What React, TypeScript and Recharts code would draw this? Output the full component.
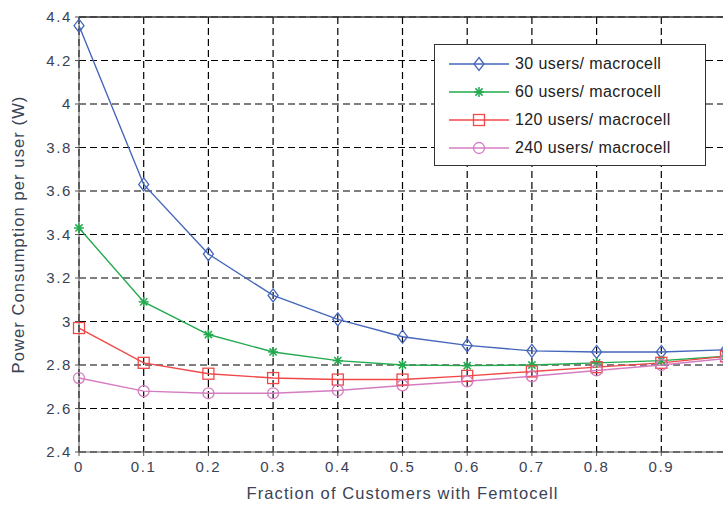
import React from 'react'
import {
  LineChart,
  Line,
  XAxis,
  YAxis,
  CartesianGrid,
  ReferenceLine,
} from 'recharts'

const fractions = [0, 0.1, 0.2, 0.3, 0.4, 0.5, 0.6, 0.7, 0.8, 0.9, 1]
const users30 = [4.36, 3.63, 3.31, 3.12, 3.01, 2.93, 2.89, 2.865, 2.86, 2.86, 2.87]
const users60 = [3.43, 3.09, 2.94, 2.86, 2.82, 2.8, 2.797, 2.8, 2.81, 2.82, 2.84]
const users120 = [2.97, 2.81, 2.76, 2.74, 2.733, 2.733, 2.75, 2.77, 2.79, 2.81, 2.84]
const users240 = [2.74, 2.68, 2.67, 2.67, 2.683, 2.706, 2.725, 2.748, 2.775, 2.8, 2.83]

const yTicks = [2.4, 2.6, 2.8, 3, 3.2, 3.4, 3.6, 3.8, 4, 4.2, 4.4]
const xTicks = [0, 0.1, 0.2, 0.3, 0.4, 0.5, 0.6, 0.7, 0.8, 0.9]

const seriesInfo = [
  { key: 'u30', name: '30 users/ macrocell', color: '#4466bb', marker: 'diamond' },
  { key: 'u60', name: '60 users/ macrocell', color: '#22aa4e', marker: 'star' },
  { key: 'u120', name: '120 users/ macrocell', color: '#f04848', marker: 'square' },
  { key: 'u240', name: '240 users/ macrocell', color: '#d47cc0', marker: 'circle' },
]

const data = fractions.map((f, i) => ({
  f,
  u30: users30[i],
  u60: users60[i],
  u120: users120[i],
  u240: users240[i],
}))

const Marker = ({ cx, cy, kind, color }: any) => {
  if (cx == null || cy == null) return null
  if (kind === 'diamond') {
    return (
      <polygon
        points={`${cx},${cy - 6.5} ${cx + 5},${cy} ${cx},${cy + 6.5} ${cx - 5},${cy}`}
        fill="none"
        stroke={color}
        strokeWidth={1.3}
      />
    )
  }
  if (kind === 'star') {
    const r = 5
    const d = 3.6
    return (
      <g stroke={color} strokeWidth={1.5}>
        <line x1={cx - r} y1={cy} x2={cx + r} y2={cy} />
        <line x1={cx} y1={cy - r} x2={cx} y2={cy + r} />
        <line x1={cx - d} y1={cy - d} x2={cx + d} y2={cy + d} />
        <line x1={cx - d} y1={cy + d} x2={cx + d} y2={cy - d} />
      </g>
    )
  }
  if (kind === 'square') {
    return (
      <rect x={cx - 5.5} y={cy - 5.5} width={11} height={11} fill="none" stroke={color} strokeWidth={1.3} />
    )
  }
  return <circle cx={cx} cy={cy} r={5.5} fill="none" stroke={color} strokeWidth={1.3} />
}

const fmt = (v: number) => String(Number(v.toFixed(1)))

const FONT = 'Liberation Sans, Arial, sans-serif'
const tickStyle = { fontSize: 15, fill: '#3a4256', letterSpacing: 1.6, fontFamily: FONT }
const labelStyle = { fontSize: 16.5, fill: '#3a4256', letterSpacing: 1.1, fontFamily: FONT }

const LegendBox = () => (
  <div
    style={{
      position: 'absolute',
      left: 434,
      top: 44,
      width: 272,
      height: 122,
      border: '1.5px solid #333',
      background: '#fff',
      boxSizing: 'border-box',
      padding: '5px 0 0 12px',
      fontFamily: FONT,
    }}
  >
    {seriesInfo.map((s) => (
      <div key={s.key} style={{ display: 'flex', alignItems: 'center', height: 28 }}>
        <svg width={64} height={16}>
          <line x1={2} y1={8} x2={62} y2={8} stroke={s.color} strokeWidth={1.3} />
          <Marker cx={32} cy={8} kind={s.marker} color={s.color} />
        </svg>
        <span style={{ fontSize: 16, color: '#222', marginLeft: 4, letterSpacing: 0.4 }}>{s.name}</span>
      </div>
    ))}
  </div>
)

export default function App() {
  return (
    <div style={{ position: 'absolute', left: 0, top: 0, width: 723, height: 505, overflow: 'hidden', background: '#fff' }}>
      <LineChart width={740} height={505} data={data} margin={{ top: 17, right: 14, bottom: 0, left: 9 }}>
        <CartesianGrid stroke="#000" strokeDasharray="7 4" strokeWidth={1.2} />
        <XAxis
          dataKey="f"
          type="number"
          domain={[0, 1]}
          ticks={xTicks}
          tickFormatter={fmt}
          stroke="#555"
          tickSize={4}
          tickMargin={5}
          height={53}
          tick={tickStyle}
          label={{ value: 'Fraction of Customers with Femtocell', position: 'insideBottom', offset: 6, style: labelStyle }}
        />
        <YAxis
          type="number"
          domain={[2.4, 4.4]}
          ticks={yTicks}
          tickFormatter={fmt}
          stroke="#555"
          width={70}
          tickSize={4}
          tickMargin={3}
          tick={tickStyle}
          allowDataOverflow
          label={{ value: 'Power Consumption per user (W)', angle: -90, position: 'insideLeft', offset: 9, style: { ...labelStyle, textAnchor: 'middle' } }}
        />
        <ReferenceLine y={4.4} stroke="#333" strokeWidth={1.5} />
        {seriesInfo.map((s) => (
          <Line
            key={s.key}
            dataKey={s.key}
            name={s.name}
            stroke={s.color}
            strokeWidth={1.4}
            isAnimationActive={false}
            dot={(p: any) => <Marker key={`${s.key}-${p.index}`} cx={p.cx} cy={p.cy} kind={s.marker} color={s.color} />}
            activeDot={false}
          />
        ))}
      </LineChart>
      <LegendBox />
    </div>
  )
}
